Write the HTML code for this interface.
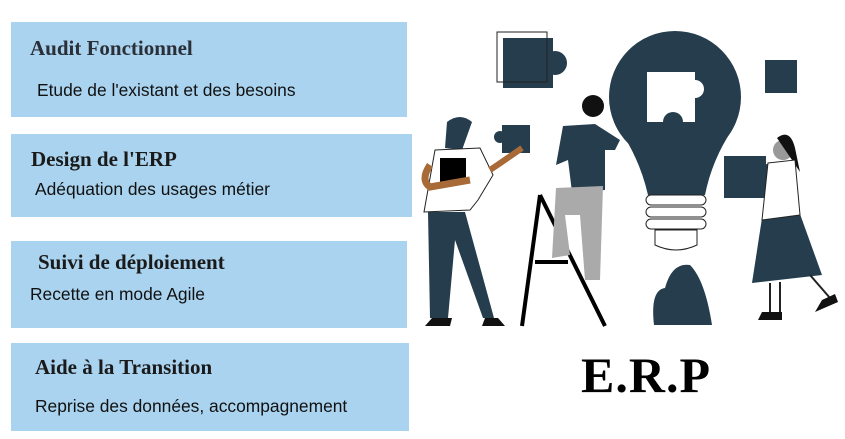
<!DOCTYPE html>
<html><head><meta charset="utf-8"><style>
body{margin:0;width:845px;height:439px;background:#fff;position:relative;overflow:hidden}
.b{position:absolute;background:#a9d3ef}
.t{position:absolute;font-family:"Liberation Serif",serif;font-weight:bold;font-size:21px;color:#1a1a1a;white-space:nowrap}
.s{position:absolute;font-family:"Liberation Sans",sans-serif;font-size:17.4px;color:#111;white-space:nowrap}
</style></head><body>
<div class="b" style="left:11px;top:22px;width:396px;height:95px"></div>
<div class="b" style="left:11px;top:134px;width:401px;height:83px"></div>
<div class="b" style="left:11px;top:241px;width:396px;height:87px"></div>
<div class="b" style="left:11px;top:343px;width:398px;height:88px"></div>
<div class="t" style="left:30px;top:36px;color:#2a2f38">Audit Fonctionnel</div>
<div class="s" style="left:37px;top:80px">Etude de l'existant et des besoins</div>
<div class="t" style="left:31px;top:147px">Design de l'ERP</div>
<div class="s" style="left:35px;top:179px">Adéquation des usages métier</div>
<div class="t" style="left:38px;top:250px">Suivi de déploiement</div>
<div class="s" style="left:30px;top:284px">Recette en mode Agile</div>
<div class="t" style="left:35px;top:355px">Aide à la Transition</div>
<div class="s" style="left:35px;top:396px">Reprise des données, accompagnement</div>
<div style="position:absolute;left:581px;top:346px;font-family:'Liberation Serif',serif;font-weight:bold;font-size:50px;color:#000;letter-spacing:1px">E.R.P</div>
<svg width="845" height="439" style="position:absolute;left:0;top:0">
<g fill="#263d4d">
<circle cx="675" cy="97" r="66"/>
<path d="M620 130 Q640 160 648 195 L705 195 Q712 160 732 130 Z"/>
<rect x="503" y="38" width="50" height="50"/><circle cx="555" cy="63" r="12"/>
<rect x="765" y="60" width="32" height="33"/>
<rect x="502" y="125" width="28" height="28"/><circle cx="500" cy="137" r="6"/>
<rect x="724" y="156" width="42" height="42"/><circle cx="768" cy="176" r="12"/>
<path d="M428 212 L465 212 L494 318 L483 318 L455 240 L448 318 L430 318 Z"/>
<path d="M563 126 L595 124 L620 140 L615 150 L605 150 L605 190 L572 192 L568 160 L556 165 Z"/>
<path d="M762 218 L800 214 L822 275 L752 283 Z"/>
<path d="M654 325 Q650 290 665 288 Q672 262 690 265 Q705 280 712 325 Z"/>
<path d="M447 122 Q460 112 472 122 L462 150 L445 148 Z"/>
</g>
<path d="M647 72 L695 72 L695 80 A9 9 0 1 1 695 98 L695 122 L683 122 A10 10 0 1 0 663 122 L647 122 Z" fill="#fff"/>
<g fill="#fff" stroke="#222" stroke-width="1">
<rect x="646" y="195" width="60" height="10" rx="5"/><rect x="646" y="207" width="60" height="10" rx="5"/><rect x="646" y="219" width="60" height="10" rx="5"/>
<path d="M655 230 L697 230 L697 245 Q676 255 655 245 Z"/>
</g>
<rect x="497" y="32" width="50" height="50" fill="none" stroke="#222"/>
<g stroke="#000" stroke-width="4"><line x1="540" y1="195" x2="522" y2="326"/><line x1="540" y1="195" x2="605" y2="326"/><line x1="535" y1="262" x2="568" y2="262"/></g>
<path d="M556 188 L603 186 L600 280 L585 280 L580 215 L565 215 L570 255 L552 258 Z" fill="#aaa"/>
<circle cx="593" cy="106" r="11" fill="#111"/>
<path d="M435 150 L480 148 L493 175 L478 200 L470 210 L424 212 Z" fill="#fff" stroke="#222"/>
<rect x="440" y="158" width="26" height="25" fill="#000"/>
<path d="M430 165 Q420 180 430 187 L470 180" stroke="#a86a36" stroke-width="7" fill="none"/>
<path d="M490 170 Q505 160 522 148" stroke="#a86a36" stroke-width="6" fill="none"/>
<circle cx="783" cy="150" r="10" fill="#999"/>
<path d="M777 138 Q790 128 795 148 L800 172 L792 160 Z" fill="#111"/>
<path d="M768 163 L795 160 L800 215 L762 220 Z" fill="#fff" stroke="#222"/>
<path d="M770 283 L770 312 M780 282 L780 312 M810 275 L830 298" stroke="#222" stroke-width="2"/>
<path d="M762 312 L782 312 L782 320 L758 320 Z M822 300 L835 294 L838 302 L815 312 Z M432 318 L452 318 L450 326 L425 326 Z M485 318 L498 318 L505 326 L482 326 Z" fill="#111"/>
</svg>
</body></html>
